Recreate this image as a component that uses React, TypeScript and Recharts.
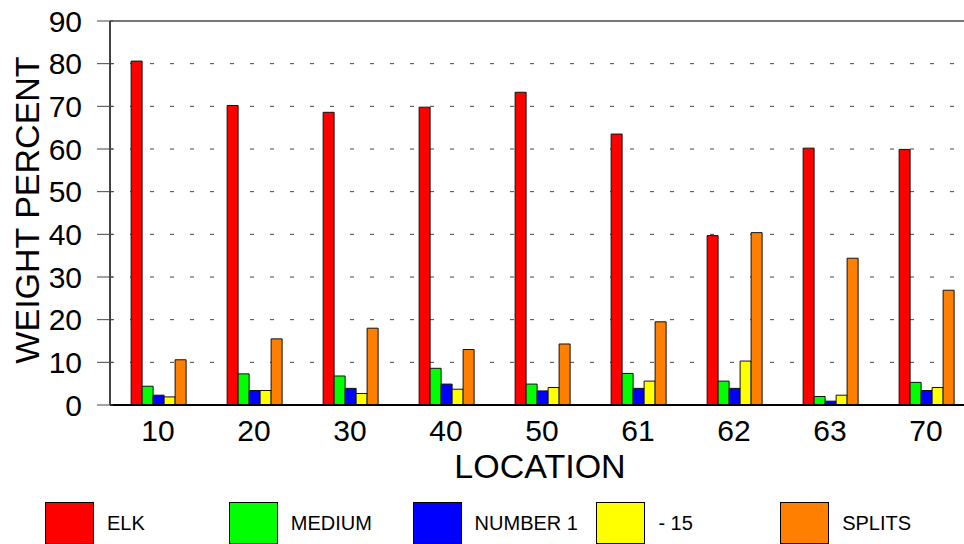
import React from "react";
import {
  BarChart,
  Bar,
  XAxis,
  YAxis,
  CartesianGrid,
  ReferenceLine,
  Legend
} from "recharts";

const locations = ["10", "20", "30", "40", "50", "61", "62", "63", "70"];
const elk = [80.6, 70.2, 68.6, 69.8, 73.3, 63.5, 39.7, 60.2, 59.9];
const medium = [4.4, 7.3, 6.8, 8.6, 4.9, 7.4, 5.6, 2.0, 5.3];
const number1 = [2.3, 3.4, 3.9, 4.9, 3.3, 3.9, 3.9, 0.9, 3.4];
const minus15 = [1.9, 3.4, 2.7, 3.7, 4.1, 5.6, 10.3, 2.3, 4.1];
const splits = [10.6, 15.5, 18.0, 13.0, 14.3, 19.5, 40.4, 34.4, 26.9];
const yTicks = [0, 10, 20, 30, 40, 50, 60, 70, 80, 90];

const series = [
  { key: "elk", name: "ELK", color: "#ff0000" },
  { key: "medium", name: "MEDIUM", color: "#00ff00" },
  { key: "number1", name: "NUMBER 1", color: "#0000ff" },
  { key: "minus15", name: "- 15", color: "#ffff00" },
  { key: "splits", name: "SPLITS", color: "#ff8000" }
];

const data = locations.map((loc, i) => ({
  loc,
  elk: elk[i],
  medium: medium[i],
  number1: number1[i],
  minus15: minus15[i],
  splits: splits[i]
}));

const FONT = "'Liberation Sans', Arial, sans-serif";

function YTick(props: any) {
  const { x, y, payload } = props;
  return (
    <g>
      <line x1={x + 15} x2={x + 31} y1={y} y2={y} stroke="#444" strokeWidth={1} />
      <text x={x} y={y} dy="0.36em" textAnchor="end" fontSize={30} fontFamily={FONT} fill="#000">
        {payload.value}
      </text>
    </g>
  );
}

function LegendBoxes() {
  return (
    <div style={{ display: "flex", paddingLeft: 45, height: 42, fontFamily: FONT }}>
      {series.map((s) => (
        <div key={s.key} style={{ width: 185, display: "flex", alignItems: "center" }}>
          <div
            style={{
              width: 49,
              height: 42,
              background: s.color,
              border: "1px solid #000",
              boxSizing: "border-box"
            }}
          />
          <span style={{ marginLeft: 13, fontSize: 20, color: "#000" }}>{s.name}</span>
        </div>
      ))}
    </div>
  );
}

export default function App() {
  return (
    <div
      style={{
        position: "absolute",
        left: 0,
        top: 0,
        width: 964,
        height: 544,
        overflow: "hidden",
        background: "#fff"
      }}
    >
      <BarChart
        width={974}
        height={544}
        data={data}
        margin={{ top: 21, right: 0, bottom: 0, left: 0 }}
        barCategoryGap="22%"
        barGap={0}
      >
        <CartesianGrid vertical={false} stroke="#444" strokeDasharray="4 16" />
        <ReferenceLine y={90} stroke="#777" strokeWidth={2} />
        <XAxis
          dataKey="loc"
          height={97}
          tickSize={0}
          tickMargin={15}
          axisLine={{ stroke: "#000", strokeWidth: 2 }}
          tick={{ fontSize: 30, fontFamily: FONT, fill: "#000" }}
          interval={0}
          label={({ viewBox }: any) => (
            <text
              x={viewBox.x + viewBox.width / 2 - 2}
              y={viewBox.y + 73}
              textAnchor="middle"
              fontSize={34}
              fontFamily={FONT}
              fill="#000"
            >
              LOCATION
            </text>
          )}
        />
        <YAxis
          width={110}
          domain={[0, 90]}
          ticks={yTicks}
          interval={0}
          tickLine={false}
          tickSize={0}
          tickMargin={0}
          axisLine={{ stroke: "#444", strokeWidth: 2 }}
          tick={(p: any) => <YTick {...p} x={82} />}
          label={({ viewBox }: any) => {
            const cy = viewBox.y + viewBox.height / 2 - 3;
            return (
              <text
                x={39}
                y={cy}
                transform={`rotate(-90, 39, ${cy})`}
                textAnchor="middle"
                fontSize={34}
                fontFamily={FONT}
                fill="#000"
              >
                WEIGHT PERCENT
              </text>
            );
          }}
        />
        <Legend
          verticalAlign="bottom"
          height={42}
          content={() => <LegendBoxes />}
          wrapperStyle={{ left: 0, width: 964, bottom: 0 }}
        />
        {series.map((s) => (
          <Bar
            key={s.key}
            dataKey={s.key}
            name={s.name}
            fill={s.color}
            stroke="#111"
            strokeWidth={1}
            isAnimationActive={false}
          />
        ))}
      </BarChart>
    </div>
  );
}
